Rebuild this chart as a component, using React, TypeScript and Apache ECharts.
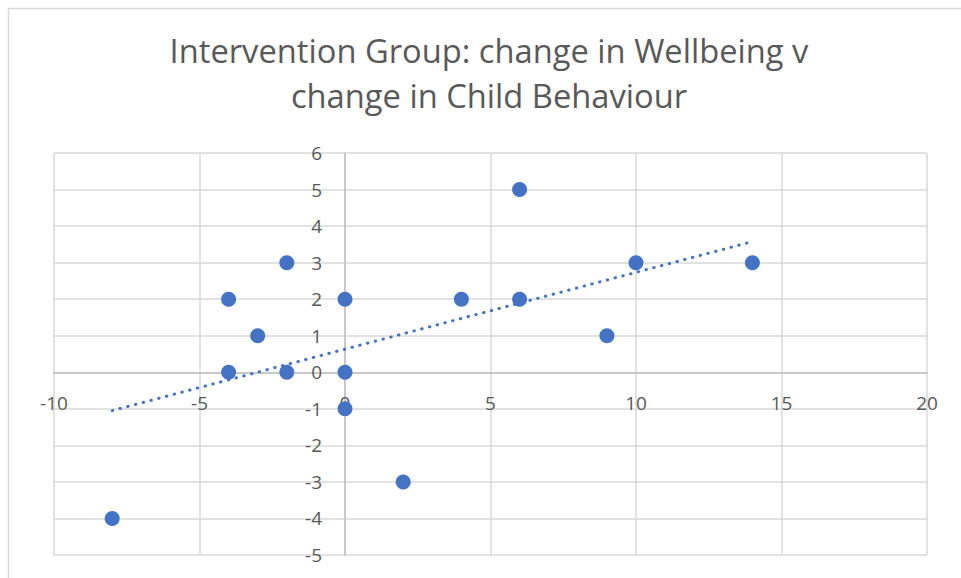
import React, { useEffect, useRef } from "react";
import * as echarts from "echarts";

const titleLines = ["Intervention Group: change in Wellbeing v", "change in Child Behaviour"];
const wellbeingChange = [-8, -4, -4, -3, -2, -2, 0, 0, 0, 2, 4, 6, 6, 9, 10, 14];
const behaviourChange = [-4, 2, 0, 1, 3, 0, 2, 0, -1, -3, 2, 5, 2, 1, 3, 3];
const xTicks = [-10, -5, 0, 5, 10, 15, 20];
const yTicks = [-5, -4, -3, -2, -1, 0, 1, 2, 3, 4, 5, 6];

function trend(xs: number[], ys: number[]) {
  const n = xs.length;
  const mx = xs.reduce((a, b) => a + b, 0) / n;
  const my = ys.reduce((a, b) => a + b, 0) / n;
  let sxy = 0, sxx = 0;
  for (let i = 0; i < n; i++) {
    sxy += (xs[i] - mx) * (ys[i] - my);
    sxx += (xs[i] - mx) * (xs[i] - mx);
  }
  const slope = sxy / sxx;
  const b = my - slope * mx;
  const x0 = Math.min(...xs), x1 = Math.max(...xs);
  return [[x0, slope * x0 + b], [x1, slope * x1 + b]];
}

const W = 961;
const H = 578;
const GRID = { left: 54, right: 34, top: 153, bottom: 23 };

export default function App() {
  const ref = useRef<HTMLDivElement>(null);
  useEffect(() => {
    if (!ref.current) return;
    const chart = echarts.init(ref.current, null, { renderer: "svg" });
    const pts = wellbeingChange.map((x, i) => [x, behaviourChange[i]]);
    const font = "'Open Sans', 'Liberation Sans', sans-serif";
    const xMin = xTicks[0], xMax = xTicks[xTicks.length - 1];
    const yMin = yTicks[0], yMax = yTicks[yTicks.length - 1];
    const gw = W - GRID.left - GRID.right;
    const gh = H - GRID.top - GRID.bottom;
    // axes cross at zero (Excel style)
    const xOffset = -(gh * (0 - yMin)) / (yMax - yMin);
    const yOffset = -(gw * (0 - xMin)) / (xMax - xMin);
    chart.setOption({
      animation: false,
      backgroundColor: "#ffffff",
      textStyle: { fontFamily: font },
      title: {
        text: titleLines.join("\n"),
        left: 484,
        top: 23,
        textAlign: "center",
        textStyle: { fontFamily: font, fontSize: 32.7, fontWeight: "normal", color: "#595959", lineHeight: 45 },
      },
      graphic: [
        {
          type: "rect",
          shape: { x: 8.5, y: 8.5, width: 1000, height: 700 },
          style: { fill: "none", stroke: "#d9d9d9", lineWidth: 1.5 },
          silent: true,
        },
      ],
      grid: { ...GRID, containLabel: false, outerBoundsMode: "none" },
      xAxis: {
        type: "value",
        min: xMin,
        max: xMax,
        interval: 5,
        position: "bottom",
        offset: xOffset,
        axisLine: { show: true, onZero: false, lineStyle: { color: "#bfbfbf", width: 1.5 } },
        axisTick: { show: false },
        axisLabel: { color: "#595959", fontSize: 19, margin: 21, showMinLabel: true, showMaxLabel: true, hideOverlap: false },
        splitLine: { show: true, lineStyle: { color: "#d9d9d9", width: 1.5 } },
      },
      yAxis: {
        type: "value",
        min: yMin,
        max: yMax,
        interval: 1,
        position: "left",
        offset: yOffset,
        axisLine: { show: true, onZero: false, lineStyle: { color: "#bfbfbf", width: 1.5 } },
        axisTick: { show: false },
        axisLabel: { color: "#595959", fontSize: 19, margin: 23, showMinLabel: true, showMaxLabel: true, hideOverlap: false },
        splitLine: { show: true, lineStyle: { color: "#d9d9d9", width: 1.5 } },
      },
      series: [
        {
          type: "scatter",
          data: pts,
          symbol: "circle",
          symbolSize: 15,
          itemStyle: { color: "#4472c4", opacity: 1 },
          z: 2,
        },
        {
          type: "line",
          data: trend(wellbeingChange, behaviourChange),
          showSymbol: false,
          symbol: "none",
          lineStyle: { color: "#4472c4", width: 3, type: [0.5, 7.5], cap: "round" },
          z: 3,
        },
      ],
    });
    return () => chart.dispose();
  }, []);
  return <div ref={ref} style={{ position: "fixed", left: 0, top: 0, width: W, height: H }} />;
}
